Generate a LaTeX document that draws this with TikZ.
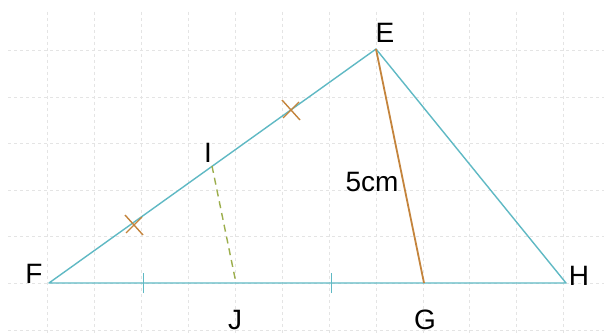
\documentclass[tikz,border=0pt]{standalone}
\usepackage{fontspec}
\setmainfont{Liberation Sans}
\definecolor{tri}{HTML}{5FB9C4}
\definecolor{seg}{HTML}{C4843C}
\definecolor{dsh}{HTML}{9CAE4C}
\definecolor{gridc}{HTML}{E4E4E4}
\begin{document}
\begin{tikzpicture}[x=1pt,y=-1pt,
  side/.style={draw=tri,line width=1.4pt},
  lab/.style={font=\fontsize{28}{30}\selectfont,inner sep=0pt},
  gridline/.style={draw=gridc,line width=0.8pt,dash pattern=on 3pt off 3pt},
  tickmark/.style={draw=tri,line width=1.3pt},
  crossmark/.style={draw=seg,line width=1.4pt}]
\useasboundingbox (0,0) rectangle (612,336);
\fill[white] (0,0) rectangle (612,336);
% grid
\foreach \x in {47,94,141,188,235,282,329,376,423,469,516,563}
  \draw[gridline] (\x,12) -- (\x,336);
\foreach \y in {50,97,143,190,236,283,330}
  \draw[gridline] (8,\y) -- (604,\y);
% points
\coordinate (F) at (49,283);
\coordinate (E) at (376,49);
\coordinate (H) at (566,283);
\coordinate (G) at (424,283);
\coordinate (J) at (236,283);
\coordinate (I) at (212,166);
% triangle
\draw[side,line join=round] (F) -- (E) -- (H) -- cycle;
% EG
\draw[draw=seg,line width=1.8pt] (E) -- (G);
% IJ dashed
\draw[draw=dsh,line width=1.4pt,dash pattern=on 7pt off 5pt] (I) -- (J);
% ticks on FH
\coordinate (t1) at (143.5,283);
\coordinate (t2) at (331.5,283);
\draw[tickmark] ([yshift=-10pt]t1) -- ([yshift=10pt]t1);
\draw[tickmark] ([yshift=-10pt]t2) -- ([yshift=10pt]t2);
% crosses on FE
\coordinate (c1) at (134,225);
\coordinate (c2) at (291,110);
\foreach \c in {c1,c2}{
  \draw[crossmark] ([shift={(-9,-10)}]\c) -- ([shift={(9,10)}]\c);
  \draw[crossmark] ([shift={(-8,8)}]\c) -- ([shift={(8,-8)}]\c);
}
% labels
\node[lab] (lE) at (385,33) {E};
\node[lab] (lF) at (34,274) {F};
\node[lab] (lH) at (579,276) {H};
\node[lab] (lG) at (425,320) {G};
\node[lab] (lJ) at (235,320) {J};
\node[lab] (lI) at (208,153) {I};
\node[lab] (l5) at (372,182) {5cm};
\end{tikzpicture}
\end{document}
